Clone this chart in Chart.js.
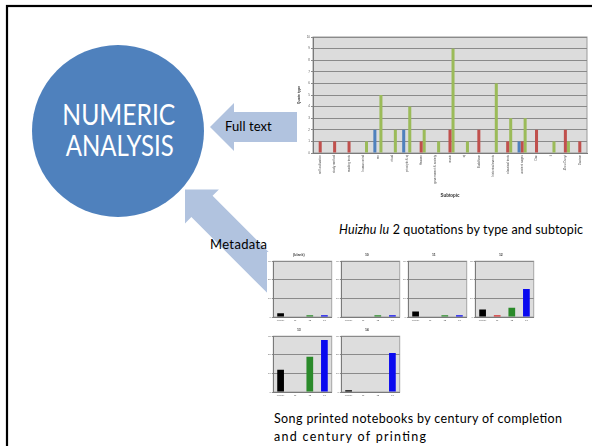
<!DOCTYPE html>
<html>
<head>
<meta charset="utf-8">
<script src="https://cdn.jsdelivr.net/npm/chart.js@4.4.0/dist/chart.umd.min.js"></script>
<style>
  body { margin: 0; width: 592px; height: 446px; overflow: hidden; background: #fff; position: relative; }
  svg, canvas, .box { position: absolute; }
  text { font-family: Lato, "Noto Sans", sans-serif; }
</style>
</head>
<body>
<svg width="592" height="446" style="left:0;top:0">
  <rect x="7" y="6" width="700" height="600" fill="none" stroke="#000" stroke-width="2.2"/>
  <circle cx="118" cy="131" r="86" fill="#4F81BD"/>
  <text x="62.3" y="125" font-size="28" fill="#fff" textLength="113" lengthAdjust="spacingAndGlyphs">NUMERIC</text>
  <text x="65.7" y="155.7" font-size="28" fill="#fff" textLength="108" lengthAdjust="spacingAndGlyphs">ANALYSIS</text>
  <polygon transform="translate(210,127)" fill="#B1C3DF" points="0,0 24,-24 24,-15 87,-15 87,15 24,15 24,24"/>
  <polygon transform="translate(185,189.5) rotate(45)" fill="#B1C3DF" points="0,0 24,-24 24,-15 140,-15 140,15 24,15 24,24"/>
  <text x="225" y="131" font-size="13" fill="#000" textLength="46.7" lengthAdjust="spacing">Full text</text>
  <text x="210" y="249" font-size="13" fill="#000" textLength="57" lengthAdjust="spacing">Metadata</text>
  <text x="339" y="234" font-size="12.5" fill="#000" textLength="244" lengthAdjust="spacing"><tspan font-style="italic">Huizhu lu</tspan> 2 quotations by type and subtopic</text>
  <text x="274" y="423.3" font-size="12.5" fill="#000" textLength="288" lengthAdjust="spacing">Song printed notebooks by century of completion</text>
  <text x="274" y="440.7" font-size="12.5" fill="#000" textLength="152" lengthAdjust="spacing">and century of printing</text>
</svg>
<div class="box" style="left:267px;top:252px;width:280px;height:150px;background:#fff"></div>
<canvas id="chartQuotes" width="295" height="168" style="left:297px;top:30px"></canvas>

<script>
// Huizhu lu 2: quotations per subtopic, one series per quote type
const subtopics = [
    'self-cultivation', 'study method', 'reading texts', 'human mind', 'ren',
    'ritual', 'principle & qi', 'Heaven', 'government & society', 'music',
    'qi', 'Buddhism', 'historical events', 'classical texts', 'ancient sages',
    'Dao', 'li', 'Zhou Dunyi', 'Daoism'
];
const quotesTypeA = [0, 0, 0, 0, 2, 0, 2, 0, 0, 0, 0, 0, 0, 0, 1, 0, 0, 0, 0];
const quotesTypeB = [1, 1, 1, 0, 0, 0, 0, 1, 0, 2, 0, 2, 0, 1, 1, 2, 0, 2, 1];
const quotesTypeC = [0, 0, 0, 1, 5, 2, 4, 2, 1, 9, 1, 0, 6, 3, 3, 0, 1, 1, 0];

// Song printed notebooks: one panel per century of completion
const completionCenturies = ['(blank)', '10', '11', '12', '13', '14'];
const printCenturies = ['(blank)', '11', '12', '13'];
const notebooksBlank = [2, 0, 1, 1];
const notebooks10 = [0, 0, 1, 1];
const notebooks11 = [3, 0, 1, 1];
const notebooks12 = [4, 1, 5, 15];
const notebooks13 = [12, 0, 19, 28];
const notebooks14 = [1, 0, 0, 21];
const panelCounts = [notebooksBlank, notebooks10, notebooks11, notebooks12, notebooks13, notebooks14];

// fondo gris del area de trazado, como en Excel
const plotBackground = {
    id: 'plotBackground',
    beforeDraw(chart, args, opts) {
        const { ctx, chartArea: a } = chart;
        ctx.save();
        ctx.fillStyle = opts.fill;
        ctx.fillRect(a.left, a.top, a.width, a.height);
        ctx.strokeStyle = opts.stroke;
        ctx.lineWidth = 1;
        ctx.strokeRect(a.left, a.top, a.width, a.height);
        ctx.restore();
    }
};

new Chart(document.getElementById('chartQuotes'), {
    type: 'bar',
    plugins: [plotBackground],
    data: {
        labels: subtopics,
        datasets: [
            { label: 'Type A', data: quotesTypeA, backgroundColor: '#4F81BD' },
            { label: 'Type B', data: quotesTypeB, backgroundColor: '#C0504D' },
            { label: 'Type C', data: quotesTypeC, backgroundColor: '#9BBB59' }
        ]
    },
    options: {
        responsive: false,
        animation: false,
        layout: { padding: { top: 7, right: 5, left: 0, bottom: 0 } },
        datasets: { bar: { barPercentage: 1, categoryPercentage: 0.63 } },
        plugins: {
            legend: { display: false },
            tooltip: { enabled: false },
            plotBackground: { fill: '#DCDCDC', stroke: '#9A9A9A' }
        },
        scales: {
            x: {
                grid: { display: false, drawTicks: false },
                border: { color: '#7A7A7A' },
                ticks: { autoSkip: false, minRotation: 90, maxRotation: 90, padding: 2, color: '#555', font: { size: 3 } },
                title: { display: true, text: 'Subtopic', color: '#333', padding: 0, font: { size: 4.5, weight: 'bold' } },
                afterFit: s => { s.height = 45; }
            },
            y: {
                min: 0,
                max: 10,
                grid: { color: '#8A8A8A', tickLength: 2 },
                border: { color: '#7A7A7A' },
                ticks: { stepSize: 1, padding: 1, color: '#555', font: { size: 3 } },
                title: { display: true, text: 'Quote type', color: '#333', padding: 0, font: { size: 3.5, weight: 'bold' } },
                afterFit: s => { s.width = 16; }
            }
        }
    }
});

// posicion de cada panel (esquina del canvas)
const panelSlots = [
    { left: 266, top: 250.8 }, { left: 333.7, top: 250.8 }, { left: 401, top: 250.8 }, { left: 467.7, top: 250.8 },
    { left: 266, top: 325.5 }, { left: 333.7, top: 325.5 }
];
const centuryColors = ['#000000', '#D42A2A', '#2A8A2A', '#0A0AEF'];

panelCounts.forEach((counts, i) => {
    const canvas = document.createElement('canvas');
    canvas.width = 68;
    canvas.height = 74.5;
    canvas.style.left = panelSlots[i].left + 'px';
    canvas.style.top = panelSlots[i].top + 'px';
    document.body.appendChild(canvas);

    new Chart(canvas, {
        type: 'bar',
        plugins: [plotBackground],
        data: {
            labels: printCenturies,
            datasets: [{ label: completionCenturies[i], data: counts, backgroundColor: centuryColors }]
        },
        options: {
            responsive: false,
            animation: false,
            layout: { padding: { top: 0, right: 2.3, left: 0, bottom: 0 } },
            datasets: { bar: { barPercentage: 0.46, categoryPercentage: 1 } },
            plugins: {
                legend: { display: false },
                tooltip: { enabled: false },
                title: { display: true, text: completionCenturies[i], color: '#444', padding: { top: 2, bottom: 4 }, font: { size: 3.5 } },
                plotBackground: { fill: '#DDDDDD', stroke: '#A5A5A5' }
            },
            scales: {
                x: {
                    grid: { display: false, drawTicks: false },
                    border: { color: '#7A7A7A' },
                    ticks: { padding: 1.5, color: '#555', font: { size: 2.5 } },
                    afterFit: s => { s.height = 8; }
                },
                y: {
                    min: 0,
                    max: 30,
                    grid: { color: '#8A8A8A', tickLength: 1.5 },
                    border: { color: '#7A7A7A' },
                    ticks: { stepSize: 10, padding: 1, color: '#555', font: { size: 2.5 } },
                    afterFit: s => { s.width = 7.3; }
                }
            }
        }
    });
});
</script>
</body>
</html>
